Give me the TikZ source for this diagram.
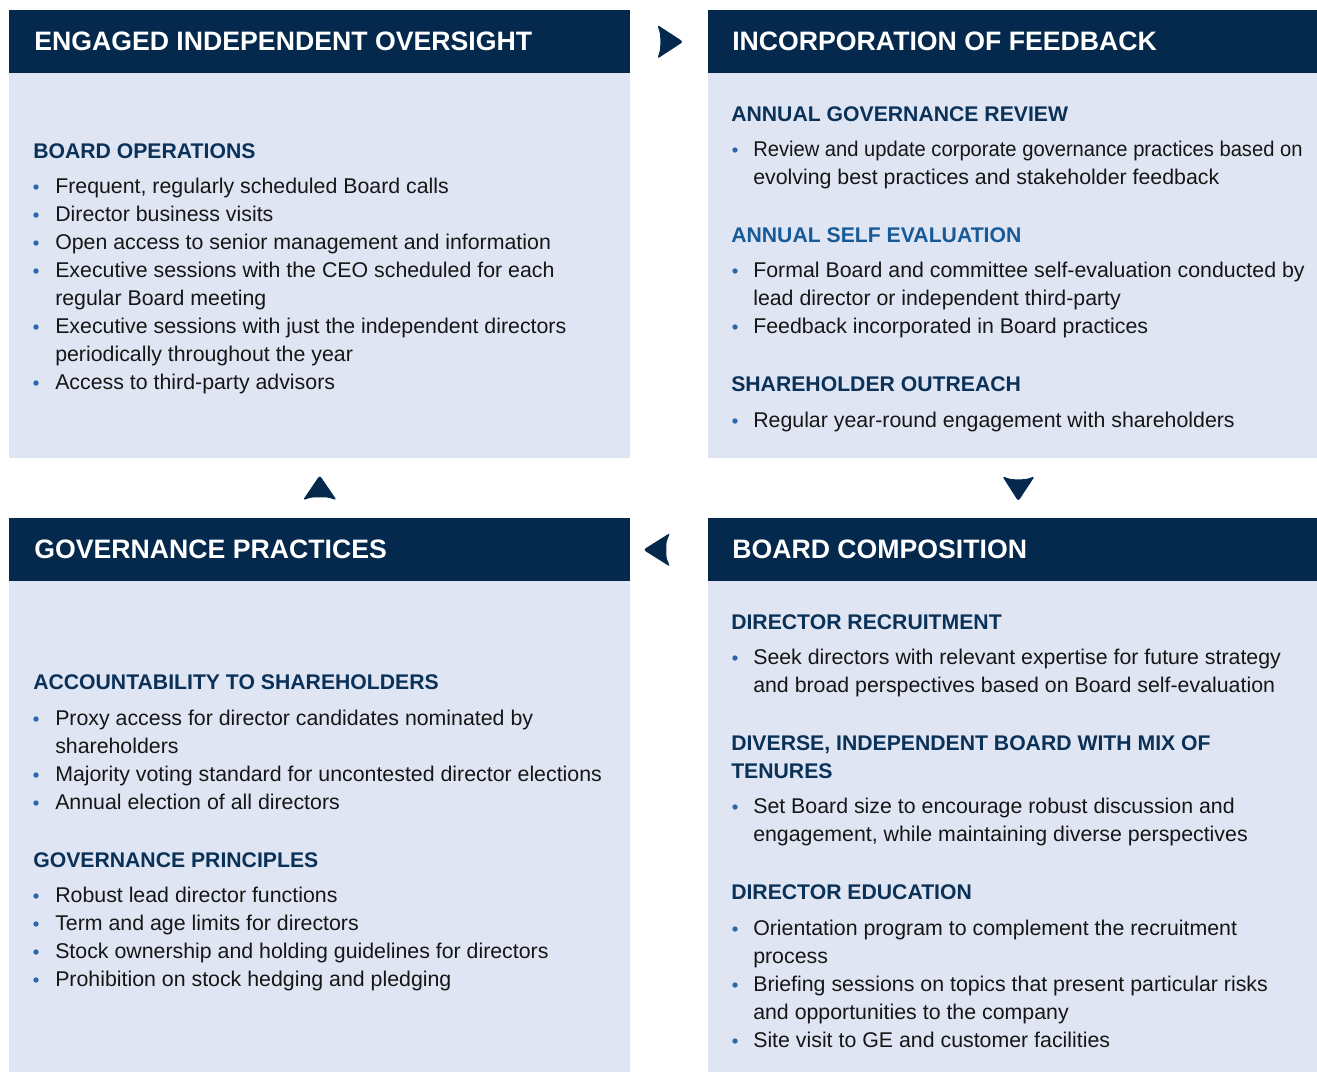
\documentclass[tikz,border=0pt]{standalone}
\usepackage{fontspec}
\setmainfont{Liberation Sans}
\usepackage{xcolor}
\usepackage{tikz}
\usetikzlibrary{calc,positioning}

\definecolor{navy}{HTML}{04294D}
\definecolor{subnavy}{HTML}{0A3158}
\definecolor{sublight}{HTML}{175A97}
\definecolor{panelbg}{HTML}{E0E5F3}
\definecolor{bulletblue}{HTML}{2A68AE}
\definecolor{textgray}{HTML}{161616}

\begin{document}
\begin{tikzpicture}[x=0.75pt, y=-0.75pt,
                hdrbox/.style={fill=navy, inner sep=0, anchor=north west, minimum height=47.25pt},
                panel/.style={fill=panelbg, inner sep=0, anchor=north west},
                hdr/.style={anchor=base west, inner sep=0, text=white, font=\fontsize{20}{24}\selectfont\bfseries},
                sub/.style={anchor=base west, inner sep=0, text=subnavy, font=\fontsize{15.9}{21}\selectfont\bfseries},
                itm/.style={anchor=base west, inner sep=0, text=textgray, font=\fontsize{16}{21}\selectfont}]
                \useasboundingbox (0,0) rectangle (1317,1072);
                % the four panels
                \node [hdrbox, minimum width=465.75pt] (tlh) at (9,10) {};
                \node [panel, minimum width=465.75pt, minimum height=288.75pt] (tlb) at (9,73) {};
                \node [hdrbox, minimum width=456.75pt] (trh) at (708,10) {};
                \node [panel, minimum width=456.75pt, minimum height=288.75pt] (trb) at (708,73) {};
                \node [hdrbox, minimum width=465.75pt] (blh) at (9,518) {};
                \node [panel, minimum width=465.75pt, minimum height=368.25pt] (blb) at (9,581) {};
                \node [hdrbox, minimum width=456.75pt] (brh) at (708,518) {};
                \node [panel, minimum width=456.75pt, minimum height=368.25pt] (brb) at (708,581) {};
                % arrows between panels
                \coordinate (ar) at ($(tlh.east)!0.5!(trh.west)$);
                \coordinate (ad) at ($(trb.south)!0.5!(brh.north)$);
                \coordinate (al) at ($(blh.east)!0.5!(brh.west)$);
                \coordinate (au) at ($(tlb.south)!0.5!(blh.north)$);
                \fill [navy, rounded corners=2pt, shift={(ar)}] (-9,0) .. controls (-9,-8) .. (-12,-17) -- (14,0) -- (-12,17) .. controls (-9,8) .. (-9,0);
                \fill [navy, rounded corners=2pt, shift={(ad)}] (5.5,-9) .. controls (-2,-9) .. (-10.5,-12) -- (5.5,13) -- (22,-12) .. controls (13,-9) .. (5.5,-9);
                \fill [navy, rounded corners=2pt, shift={(al)}] (-3,0) .. controls (-3,-8) .. (1,-17) -- (-26,0) -- (1,17) .. controls (-3,8) .. (-3,0);
                \fill [navy, rounded corners=2pt, shift={(au)}] (0,9) .. controls (-8,9) .. (-17,12) -- (0,-13) -- (17,12) .. controls (8,9) .. (0,9);
                % headers
                \node [hdr] (t1) at (34,50) {ENGAGED INDEPENDENT OVERSIGHT};
                \node [hdr] (t2) at (732,50) {INCORPORATION OF FEEDBACK};
                \node [hdr] (t3) at (34,558) {GOVERNANCE PRACTICES};
                \node [hdr] (t4) at (732,558) {BOARD COMPOSITION};
                % engaged independent oversight
                \node [sub] (s1) at (33,158) {BOARD OPERATIONS};
                \node [itm] (i1) at (55,193) {Frequent, regularly scheduled Board calls};
                \node [itm] (i2) at (55,221) {Director business visits};
                \node [itm] (i3) at (55,249) {Open access to senior management and information};
                \node [itm] (i4) at (55,277) {Executive sessions with the CEO scheduled for each};
                \node [itm] (i5) at (55,305) {regular Board meeting};
                \node [itm] (i6) at (55,333) {Executive sessions with just the independent directors};
                \node [itm] (i7) at (55,361) {periodically throughout the year};
                \node [itm] (i8) at (55,389) {Access to third-party advisors};
                \foreach \y in {193,221,249,277,333,389}
                    \fill [bulletblue] (36,\y-6) circle (2.7);
                % incorporation of feedback
                \node [sub] (s2) at (731,121) {ANNUAL GOVERNANCE REVIEW};
                \node [itm] (j1) at (753,156) {\resizebox{412pt}{\height}{Review and update corporate governance practices based on}};
                \node [itm] (j2) at (753,184) {evolving best practices and stakeholder feedback};
                \node [sub, text=sublight] (s3) at (731,242) {ANNUAL SELF EVALUATION};
                \node [itm] (j3) at (753,277) {Formal Board and committee self-evaluation conducted by};
                \node [itm] (j4) at (753,305) {lead director or independent third-party};
                \node [itm] (j5) at (753,333) {Feedback incorporated in Board practices};
                \node [sub] (s4) at (731,391) {SHAREHOLDER OUTREACH};
                \node [itm] (j6) at (753,427) {Regular year-round engagement with shareholders};
                \foreach \y in {156,277,333,427}
                    \fill [bulletblue] (735,\y-6) circle (2.7);
                % governance practices
                \node [sub] (s5) at (33,689) {ACCOUNTABILITY TO SHAREHOLDERS};
                \node [itm] (k1) at (55,725) {Proxy access for director candidates nominated by};
                \node [itm] (k2) at (55,753) {shareholders};
                \node [itm] (k3) at (55,781) {Majority voting standard for uncontested director elections};
                \node [itm] (k4) at (55,809) {Annual election of all directors};
                \node [sub] (s6) at (33,867) {GOVERNANCE PRINCIPLES};
                \node [itm] (k5) at (55,902) {Robust lead director functions};
                \node [itm] (k6) at (55,930) {Term and age limits for directors};
                \node [itm] (k7) at (55,958) {Stock ownership and holding guidelines for directors};
                \node [itm] (k8) at (55,986) {Prohibition on stock hedging and pledging};
                \foreach \y in {725,781,809,902,930,958,986}
                    \fill [bulletblue] (36,\y-6) circle (2.7);
                % board composition
                \node [sub] (s7) at (731,629) {DIRECTOR RECRUITMENT};
                \node [itm] (m1) at (753,664) {Seek directors with relevant expertise for future strategy};
                \node [itm] (m2) at (753,692) {and broad perspectives based on Board self-evaluation};
                \node [sub] (s8) at (731,750) {DIVERSE, INDEPENDENT BOARD WITH MIX OF};
                \node [sub] (s9) at (731,778) {TENURES};
                \node [itm] (m3) at (753,813) {Set Board size to encourage robust discussion and};
                \node [itm] (m4) at (753,841) {engagement, while maintaining diverse perspectives};
                \node [sub] (s10) at (731,899) {DIRECTOR EDUCATION};
                \node [itm] (m5) at (753,935) {Orientation program to complement the recruitment};
                \node [itm] (m6) at (753,963) {process};
                \node [itm] (m7) at (753,991) {Briefing sessions on topics that present particular risks};
                \node [itm] (m8) at (753,1019) {and opportunities to the company};
                \node [itm] (m9) at (753,1047) {Site visit to GE and customer facilities};
                \foreach \y in {664,813,935,991,1047}
                    \fill [bulletblue] (735,\y-6) circle (2.7);
\end{tikzpicture}
\end{document}
